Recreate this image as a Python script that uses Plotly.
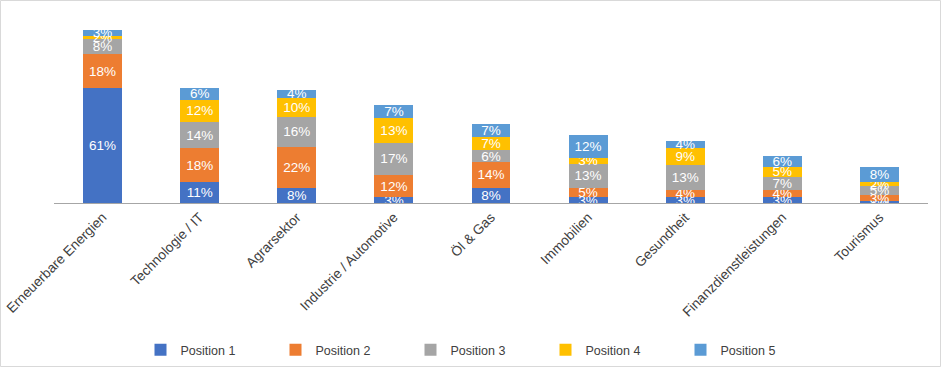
import plotly.graph_objects as go

categories = ["Erneuerbare Energien", "Technologie / IT", "Agrarsektor", "Industrie / Automotive",
              "Öl & Gas", "Immobilien", "Gesundheit", "Finanzdienstleistungen", "Tourismus"]
position1 = [61, 11, 8, 3, 8, 3, 3, 3, 1]
position2 = [18, 18, 22, 12, 14, 5, 4, 4, 3]
position3 = [8, 14, 16, 17, 6, 13, 13, 7, 5]
position4 = [2, 12, 10, 13, 7, 3, 9, 5, 2]
position5 = [3, 6, 4, 7, 7, 12, 4, 6, 8]

series = [("Position 1", position1, "#4472C4"),
          ("Position 2", position2, "#ED7D31"),
          ("Position 3", position3, "#A5A5A5"),
          ("Position 4", position4, "#FFC000"),
          ("Position 5", position5, "#5B9BD5")]

fig = go.Figure()
for name, vals, color in series:
    fig.add_trace(go.Bar(
        x=categories, y=vals, name=name, marker=dict(color=color, line=dict(width=0)),
        texttemplate="%{y}%", textposition="inside", insidetextanchor="middle",
        textangle=0, textfont=dict(color="white", size=13.5, family="Liberation Sans"),
        constraintext="none", cliponaxis=False,
    ))

W, H = 941, 367
ml, mr, mt, mb = 54, 13, 15, 164
pw, ph = W - ml - mr, H - mt - mb

fig.update_layout(
    width=W, height=H, barmode="stack", bargap=0.6,
    margin=dict(l=ml, r=mr, t=mt, b=mb, autoexpand=False),
    paper_bgcolor="white", plot_bgcolor="white",
    uniformtext=dict(minsize=13, mode="show"),
    font=dict(family="Liberation Sans", color="#595959", size=12),
    xaxis=dict(tickangle=-45, showline=True, linecolor="#a6a6a6", linewidth=1,
               ticks="", showgrid=False, tickfont=dict(size=13.7, color="#404040")),
    yaxis=dict(range=[0, 100], visible=False),
    legend=dict(orientation="h", x=0.5 - 13 / pw, xanchor="center", y=(mt + ph - 350) / ph,
                yanchor="middle", entrywidth=90, entrywidthmode="pixels", itemwidth=30,
                font=dict(size=12.5, color="#404040"), traceorder="normal"),
    shapes=[dict(type="rect", xref="paper", yref="paper",
                 x0=(0.5 - ml) / pw, x1=(W - 0.5 - ml) / pw,
                 y0=(mt + ph - (H - 0.5)) / ph, y1=(mt + ph - 0.5) / ph,
                 line=dict(color="#d9d9d9", width=1), fillcolor="rgba(0,0,0,0)", layer="below")],
)

fig.write_html("out.html", config={"displayModeBar": False},
               post_script="document.body.style.margin='0';")
